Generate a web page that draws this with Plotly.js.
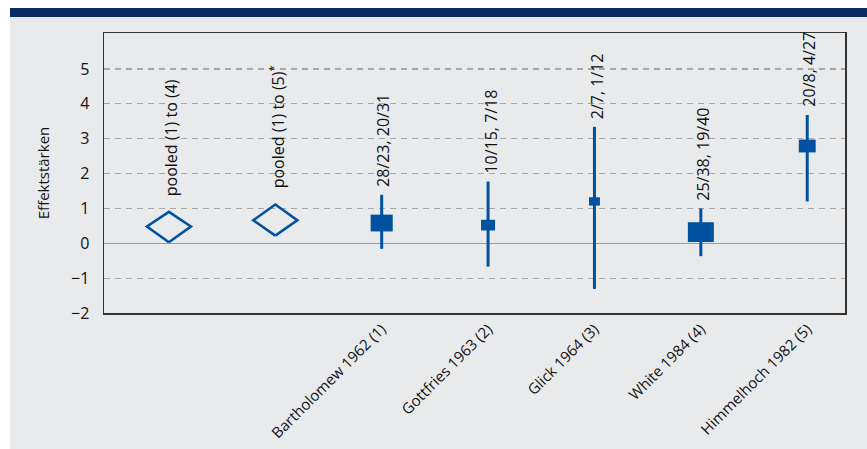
<!DOCTYPE html>
<html>
<head>
<meta charset="utf-8">
<script src="https://cdn.plot.ly/plotly-3.0.1.min.js"></script>
<style>
  html, body { margin: 0; padding: 0; background: #ffffff; }
  #chart { width: 867px; height: 449px; }
</style>
</head>
<body>
<div id="chart"></div>
<script>
// ---- data ----
var pooledLabels = ['pooled (1) to (4)', 'pooled (1) to (5)<sup>*</sup>'];
var pooledEst = [0.48, 0.66];
var pooledLo = [0.03, 0.22];
var pooledHi = [0.90, 1.11];

var studyNames = ['Bartholomew 1962 (1)', 'Gottfries 1963 (2)', 'Glick 1964 (3)', 'White 1984 (4)', 'Himmelhoch 1982 (5)'];
var studyCounts = ['28/23, 20/31', '10/15, 7/18', '2/7, 1/12', '25/38, 19/40', '20/8, 4/27'];
var studyEst = [0.58, 0.52, 1.20, 0.32, 2.79];
var studyLo = [-0.16, -0.67, -1.31, -0.37, 1.20];
var studyHi = [1.39, 1.77, 3.34, 1.00, 3.68];
var studyWeight = [0.85, 0.54, 0.42, 1.00, 0.65];

var yTicks = [-2, -1, 0, 1, 2, 3, 4, 5];

// ---- styles ----
var BLUE = '#0052a0';
var GRAY_BG = '#e9eaec';
var BAND = '#0a2d68';
var TEXT = '#111111';
var FONT = '"Open Sans", "DejaVu Sans", sans-serif';
var W = 867, H = 449;
var M = {l: 104, r: 22, t: 33, b: 136};
var XRANGE = [-0.61, 6.355];
var YRANGE = [-2, 6.03];
var plotW = W - M.l - M.r, plotH = H - M.t - M.b;
var DIAMOND_HALF_PX = 22;
var BOX_MAX_PX = 26;
var BOX_ASPECT = 0.76;
var LINE_EW_FACTOR = 1.4; // plotly's line-ew marker is 1.4 x size long

var nPooled = pooledEst.length;
var pooledX = pooledEst.map(function (_, i) { return i; });
var studyX = studyEst.map(function (_, i) { return nPooled + i; });

var halfW = DIAMOND_HALF_PX * (XRANGE[1] - XRANGE[0]) / plotW;

// diamond outlines built from the pooled estimates
var dx = [], dy = [];
pooledEst.forEach(function (e, i) {
  var x = pooledX[i];
  dx.push(x, x + halfW, x, x - halfW, x, null);
  dy.push(pooledLo[i], e, pooledHi[i], e, pooledLo[i], null);
});

var traces = [
  {
    type: 'scatter', mode: 'lines', x: dx, y: dy,
    line: {color: BLUE, width: 2.6}, hoverinfo: 'skip', showlegend: false
  },
  {
    type: 'scatter', mode: 'markers', x: studyX, y: studyEst,
    error_y: {
      type: 'data', symmetric: false,
      array: studyHi.map(function (h, i) { return h - studyEst[i]; }),
      arrayminus: studyLo.map(function (l, i) { return studyEst[i] - l; }),
      width: 0, thickness: 3, color: BLUE
    },
    marker: {
      symbol: 'line-ew',
      opacity: 1,
      size: studyWeight.map(function (w) { return w * BOX_MAX_PX / LINE_EW_FACTOR; }),
      color: BLUE,
      line: {color: BLUE, width: studyWeight.map(function (w) { return w * BOX_MAX_PX * BOX_ASPECT; })}
    },
    showlegend: false
  }
];

var annotations = [];
pooledLabels.forEach(function (t, i) {
  annotations.push({
    x: pooledX[i], y: pooledHi[i], xref: 'x', yref: 'y', text: t,
    textangle: -90, xanchor: 'center', yanchor: 'bottom', yshift: 14, xshift: 2,
    showarrow: false, font: {family: FONT, size: 16, color: TEXT}
  });
});
studyCounts.forEach(function (t, i) {
  annotations.push({
    x: studyX[i], y: studyHi[i], xref: 'x', yref: 'y', text: t,
    textangle: -90, xanchor: 'center', yanchor: 'bottom', yshift: 6, xshift: 2,
    showarrow: false, font: {family: FONT, size: 16, color: TEXT}
  });
});

function px2paperX(p) { return (p - M.l) / plotW; }
function px2paperY(p) { return (H - M.b - p) / plotH; }

var shapes = [
  {type: 'rect', xref: 'paper', yref: 'paper', layer: 'below',
   x0: px2paperX(10), x1: px2paperX(W + 2), y0: px2paperY(H + 2), y1: px2paperY(17),
   fillcolor: GRAY_BG, line: {width: 0}},
  {type: 'rect', xref: 'paper', yref: 'paper', layer: 'below',
   x0: px2paperX(10), x1: px2paperX(W + 2), y0: px2paperY(17), y1: px2paperY(8),
   fillcolor: BAND, line: {width: 0}}
];

var layout = {
  width: W, height: H,
  margin: M,
  paper_bgcolor: '#ffffff',
  plot_bgcolor: GRAY_BG,
  font: {family: FONT, color: TEXT},
  xaxis: {
    range: XRANGE, tickmode: 'array', tickvals: studyX, ticktext: studyNames,
    tickangle: -45, tickfont: {family: FONT, size: 15, color: TEXT},
    showgrid: false, zeroline: false, ticks: '',
    showline: true, linecolor: '#333333', linewidth: 1.5, mirror: true
  },
  yaxis: {
    range: YRANGE, tickmode: 'array', tickvals: yTicks,
    tickfont: {family: FONT, size: 16, color: TEXT},
    showgrid: true, gridcolor: '#a8a8a8', gridwidth: 1.2, griddash: '6px,5px',
    zeroline: true, zerolinecolor: '#9a9a9a', zerolinewidth: 1.5,
    ticks: '', ticklabelstandoff: 10,
    showline: true, linecolor: '#333333', linewidth: 1.5, mirror: true,
    title: {text: 'Effektstärken', font: {family: FONT, size: 15, color: TEXT}, standoff: 18}
  },
  shapes: shapes,
  annotations: annotations,
  showlegend: false
};

Plotly.newPlot('chart', traces, layout, {displayModeBar: false, staticPlot: true});
</script>
</body>
</html>
